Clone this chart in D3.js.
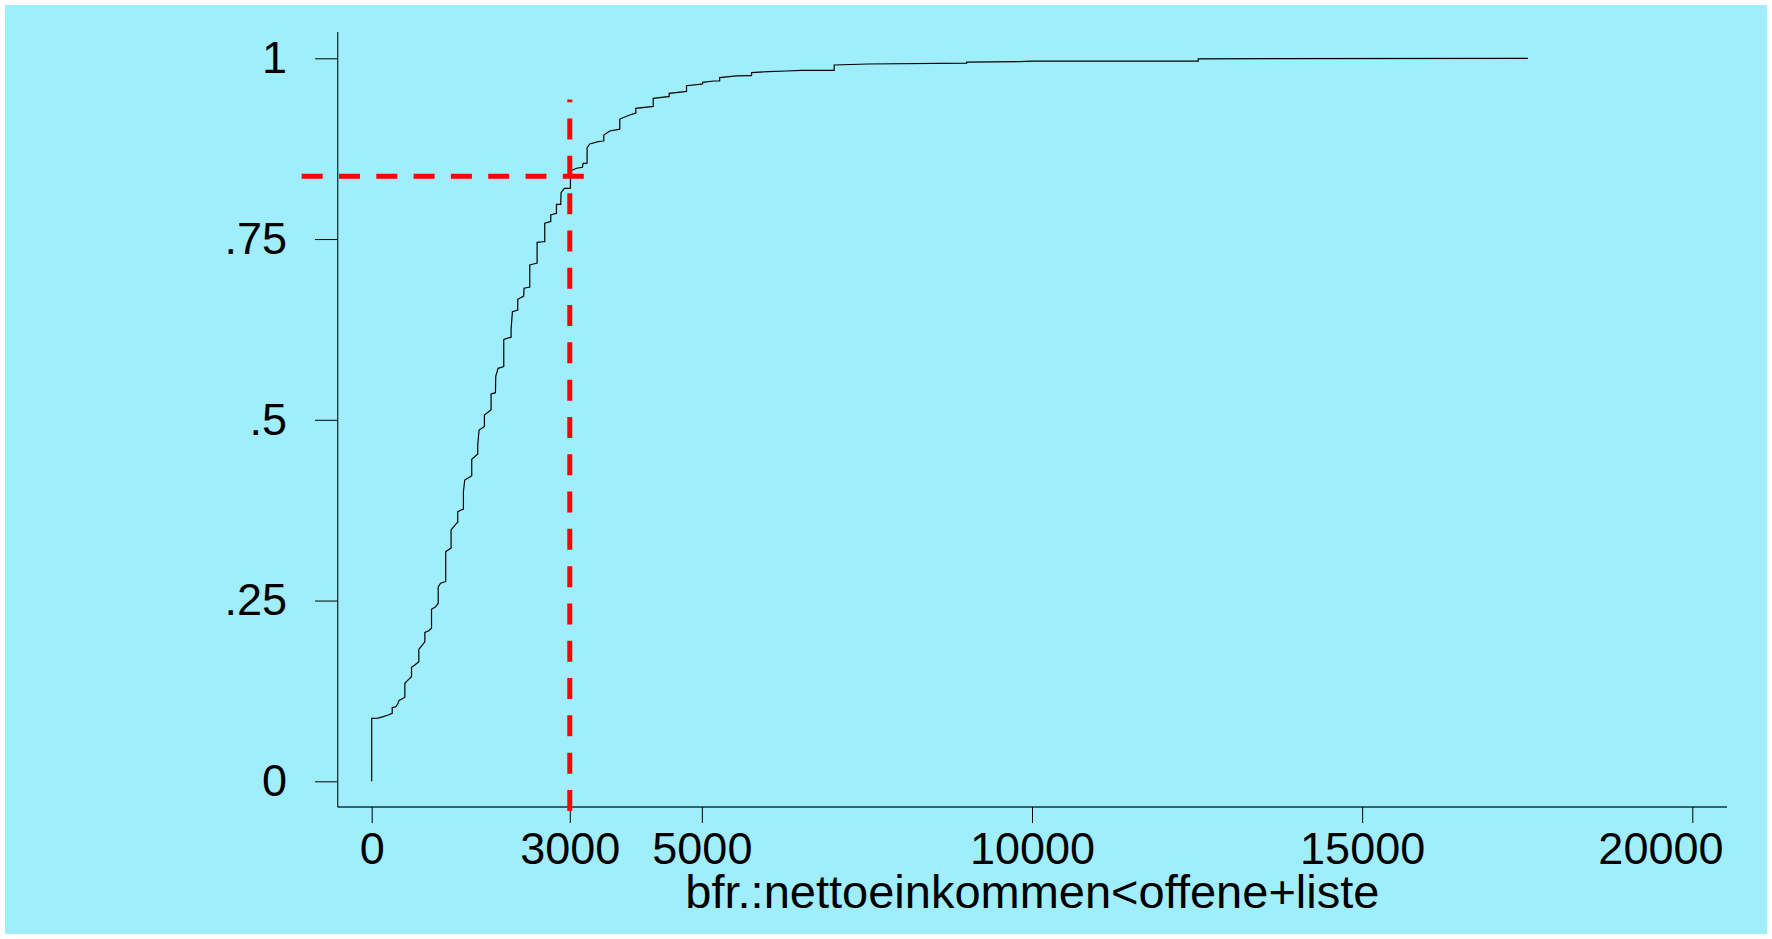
<!DOCTYPE html>
<html>
<head>
<meta charset="utf-8">
<script src="https://cdn.jsdelivr.net/npm/d3@7"></script>
<style>
  html, body { margin: 0; padding: 0; background: #ffffff; }
  svg { display: block; }
  text { font-family: "Liberation Sans", Arial, Helvetica, sans-serif; fill: #000; }
</style>
</head>
<body>
<svg id="chart" width="1772" height="939"></svg>
<script>
// Cumulative distribution of net income (sorted values and running share)
const incomeValues = [
  0, 0, 0, 96, 175, 250, 311, 311, 365, 400, 410, 476, 502, 502, 537, 603, 603, 653, 714, 714,
  744, 805, 805, 865, 906, 906, 967, 1007, 1007, 1043, 1111, 1121, 1121, 1197, 1202, 1202,
  1293, 1303, 1303, 1383, 1389, 1389, 1409, 1510, 1515, 1515, 1601, 1606, 1606, 1626, 1702,
  1707, 1707, 1803, 1808, 1808, 1874, 1879, 1914, 2000, 2000, 2101, 2111, 2111, 2131, 2212,
  2212, 2302, 2307, 2378, 2394, 2394, 2494, 2505, 2505, 2595, 2621, 2621, 2706, 2712, 2712,
  2798, 2798, 2863, 2868, 2918, 3003, 3010, 3010, 3101, 3191, 3202, 3252, 3262, 3262, 3303,
  3429, 3504, 3515, 3515, 3606, 3742, 3757, 3757, 3909, 3984, 4000, 4000, 4237, 4263, 4263,
  4490, 4505, 4505, 4742, 4768, 4768, 4995, 5010, 5010, 5182, 5270, 5270, 5525, 5727, 5753,
  5753, 6004, 6282, 6510, 7004, 7004, 7510, 9010, 9010, 9808, 10010, 12517, 12517, 17510
];
const cumulativeShare = [
  0, 0.064, 0.087, 0.0875, 0.0894, 0.0917, 0.094, 0.102, 0.103, 0.108, 0.1115, 0.1148, 0.116,
  0.1355, 0.139, 0.1447, 0.1577, 0.1609, 0.1654, 0.1826, 0.186, 0.193, 0.206, 0.2083, 0.2116,
  0.238, 0.2415, 0.246, 0.269, 0.274, 0.276, 0.2765, 0.3176, 0.3223, 0.3226, 0.3476, 0.3577,
  0.358, 0.373, 0.3762, 0.3765, 0.4006, 0.4167, 0.4222, 0.4225, 0.4454, 0.4523, 0.4525, 0.4651,
  0.4859, 0.4905, 0.4907, 0.5066, 0.5136, 0.5138, 0.5357, 0.5375, 0.5606, 0.5712, 0.5735,
  0.6113, 0.6141, 0.6143, 0.6252, 0.6495, 0.6519, 0.6667, 0.6712, 0.6819, 0.6833, 0.6835,
  0.7141, 0.7165, 0.7167, 0.7455, 0.7463, 0.7465, 0.7718, 0.774, 0.7742, 0.7833, 0.7856, 0.798,
  0.798, 0.8141, 0.8202, 0.8202, 0.8204, 0.8441, 0.8479, 0.8492, 0.8548, 0.8548, 0.855, 0.8763,
  0.8815, 0.8847, 0.8856, 0.8858, 0.8939, 0.8995, 0.9018, 0.902, 0.916, 0.9216, 0.9239, 0.924,
  0.9308, 0.9331, 0.9333, 0.9447, 0.9469, 0.947, 0.9516, 0.9538, 0.954, 0.962, 0.9644, 0.9645,
  0.9668, 0.9686, 0.9688, 0.9733, 0.9756, 0.976, 0.976, 0.9802, 0.9815, 0.9824, 0.9834, 0.9834,
  0.9907, 0.9921, 0.9934, 0.9948, 0.9953, 0.9962, 0.9962, 0.9993, 1.0
];

// Axis ticks
const xTickValues = [0, 3000, 5000, 10000, 15000, 20000];
const yTickValues = [0, 0.25, 0.5, 0.75, 1];
const yTickLabels = ["0", ".25", ".5", ".75", "1"];
const xAxisTitle = "bfr.:nettoeinkommen<offene+liste";

// Reading guide at 3000: income and the corresponding cumulative share
const guideIncome = 3000;
const guideShare = 0.837;
const guideIncomeStart = -1060;   // left end of the horizontal guide
const guideShareRange = [-0.041, 0.943]; // vertical guide extent

// Layout
const W = 1772, H = 939;
const frame = { left: 337.7, right: 1727, top: 32, bottom: 807 };

const svg = d3.select("#chart");

// Outer panel
svg.append("rect").attr("x", 0).attr("y", 0).attr("width", W).attr("height", H).attr("fill", "#ffffff");
svg.append("rect").attr("x", 5).attr("y", 5).attr("width", W - 10).attr("height", H - 10).attr("fill", "#A0EEFC");

const x = d3.scaleLinear().domain([0, 20000]).range([371.7, 1692.3]);
const y = d3.scaleLinear().domain([0, 1]).range([781.3, 58.3]);

// Axis lines
svg.append("line")
  .attr("x1", frame.left).attr("x2", frame.left)
  .attr("y1", frame.top).attr("y2", frame.bottom)
  .attr("stroke", "#13323b").attr("stroke-width", 1.3);
svg.append("line")
  .attr("x1", frame.left).attr("x2", frame.right)
  .attr("y1", frame.bottom).attr("y2", frame.bottom)
  .attr("stroke", "#13323b").attr("stroke-width", 1.3);

// Y axis
const yAxis = d3.axisLeft(y)
  .tickValues(yTickValues)
  .tickFormat((d, i) => yTickLabels[i])
  .tickSize(22.7)
  .tickPadding(28);
const gy = svg.append("g").attr("transform", `translate(${frame.left},0)`).call(yAxis);
gy.select(".domain").remove();
gy.selectAll(".tick line").attr("stroke", "#000").attr("stroke-width", 1);
gy.selectAll(".tick text")
  .style("font-size", "45px")
  .style("font-family", "'Liberation Sans', Arial, sans-serif")
  .attr("fill", "#000");

// X axis
const xAxis = d3.axisBottom(x)
  .tickValues(xTickValues)
  .tickFormat(d3.format("d"))
  .tickSize(16)
  .tickPadding(9);
const gx = svg.append("g").attr("transform", `translate(0,${frame.bottom})`).call(xAxis);
gx.select(".domain").remove();
gx.selectAll(".tick line").attr("stroke", "#000").attr("stroke-width", 1);
gx.selectAll(".tick text")
  .style("font-size", "45px")
  .style("font-family", "'Liberation Sans', Arial, sans-serif")
  .attr("fill", "#000");

// Keep tick labels inside the plot frame
gx.selectAll(".tick").each(function(d) {
  const t = d3.select(this).select("text");
  const w = t.node().getComputedTextLength();
  const cx = x(d);
  const rightEdge = cx + w / 2;
  const limit = frame.right - 4;
  if (rightEdge > limit) t.attr("x", limit - rightEdge);
});

// Axis title
svg.append("text")
  .attr("x", (frame.left + frame.right) / 2)
  .attr("y", 908)
  .attr("text-anchor", "middle")
  .style("font-size", "47px")
  .text(xAxisTitle);

// Cumulative distribution line
const points = incomeValues.map((v, i) => [v, cumulativeShare[i]]);
const line = d3.line().x(d => x(d[0])).y(d => y(d[1])).curve(d3.curveLinear);
svg.append("path")
  .datum(points)
  .attr("d", line)
  .attr("fill", "none")
  .attr("stroke", "#000")
  .attr("stroke-width", 1.2)
  .attr("stroke-linejoin", "miter");

// Dashed reading guides
svg.append("line")
  .attr("x1", x(guideIncome)).attr("x2", x(guideIncome))
  .attr("y1", y(guideShareRange[0])).attr("y2", y(guideShareRange[1]))
  .attr("stroke", "#FF0000").attr("stroke-width", 5)
  .attr("stroke-dasharray", "21,16.3");
svg.append("line")
  .attr("x1", x(guideIncomeStart)).attr("x2", x(guideIncome) + 14.5)
  .attr("y1", y(guideShare)).attr("y2", y(guideShare))
  .attr("stroke", "#FF0000").attr("stroke-width", 5)
  .attr("stroke-dasharray", "21,16.3");
</script>
</body>
</html>
